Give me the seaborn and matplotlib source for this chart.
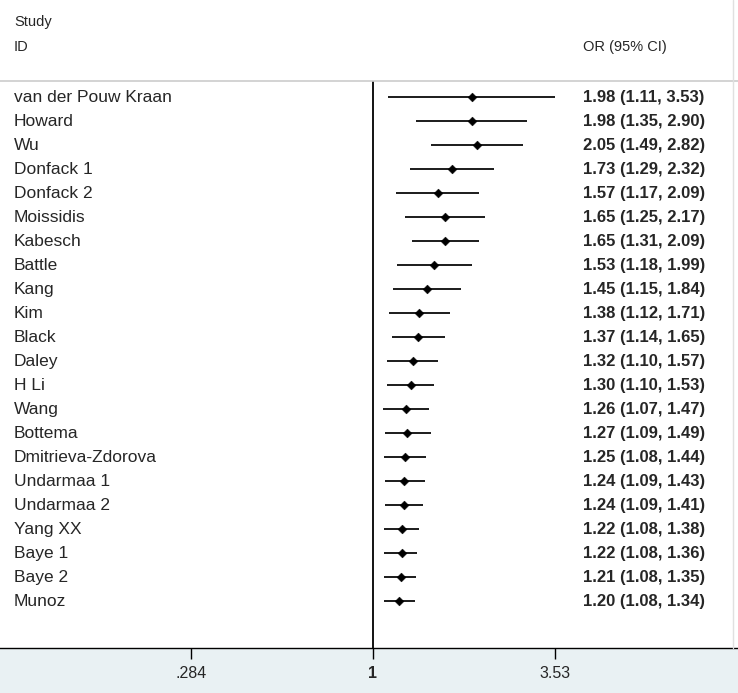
import numpy as np
import pandas as pd
import seaborn as sns
import matplotlib.pyplot as plt
from matplotlib.patches import Rectangle
from matplotlib.transforms import blended_transform_factory

studies = ["van der Pouw Kraan", "Howard", "Wu", "Donfack 1", "Donfack 2",
           "Moissidis", "Kabesch", "Battle", "Kang", "Kim", "Black", "Daley",
           "H Li", "Wang", "Bottema", "Dmitrieva-Zdorova", "Undarmaa 1",
           "Undarmaa 2", "Yang XX", "Baye 1", "Baye 2", "Munoz"]
odds = [1.98, 1.98, 2.05, 1.73, 1.57, 1.65, 1.65, 1.53, 1.45, 1.38, 1.37,
        1.32, 1.30, 1.26, 1.27, 1.25, 1.24, 1.24, 1.22, 1.22, 1.21, 1.20]
lower = [1.11, 1.35, 1.49, 1.29, 1.17, 1.25, 1.31, 1.18, 1.15, 1.12, 1.14,
         1.10, 1.10, 1.07, 1.09, 1.08, 1.09, 1.09, 1.08, 1.08, 1.08, 1.08]
upper = [3.53, 2.90, 2.82, 2.32, 2.09, 2.17, 2.09, 1.99, 1.84, 1.71, 1.65,
         1.57, 1.53, 1.47, 1.49, 1.44, 1.43, 1.41, 1.38, 1.36, 1.35, 1.34]
ticks = [0.284, 1, 3.53]
tick_labels = [".284", "1", "3.53"]

df = pd.DataFrame({"study": studies, "or": odds, "lo": lower, "hi": upper})
df["row"] = np.arange(len(df))

sns.set_style("white")
plt.rcParams["font.family"] = ["Liberation Sans", "DejaVu Sans"]

fig = plt.figure(figsize=(7.38, 6.93), dpi=100)
W, H = 738, 693
# bottom band
fig.patches.append(Rectangle((0, 0), 1, 1 - 648 / H, transform=fig.transFigure,
                             facecolor="#e9f1f3", edgecolor="none", zorder=-1))

ax = fig.add_axes([0, 1 - 648 / H, 1, (648 - 81) / H])
ax.set_facecolor("white")
ax.set_xscale("log")
ppl = 144.3  # pixels per ln unit
ax.set_xlim(np.exp(-373 / ppl), np.exp((738 - 373) / ppl))
ax.set_ylim(21 + 47 / 24, -16 / 24)

ax.hlines(df["row"], df["lo"], df["hi"], color="black", lw=1.25)
sns.scatterplot(data=df, x="or", y="row", marker="D", s=20, color="black",
                edgecolor="black", ax=ax, zorder=3, legend=False)
ax.axvline(1, color="black", lw=1.3)

for s in ["left", "right"]:
    ax.spines[s].set_visible(False)
ax.spines["top"].set_color("#cccccc")
ax.spines["top"].set_linewidth(1.2)
ax.spines["bottom"].set_color("black")
ax.spines["bottom"].set_linewidth(1.0)

ax.set_xticks(ticks)
ax.set_xticklabels(tick_labels)
ax.xaxis.set_minor_locator(plt.NullLocator())
ax.tick_params(axis="x", direction="out", length=8, width=1, labelsize=11.5,
               pad=5, bottom=True, color="black")
ax.get_xticklabels()[1].set_fontweight("bold")
ax.set_yticks([])
ax.set_xlabel("")
ax.set_ylabel("")

tr = blended_transform_factory(ax.transAxes, ax.transData)
for i, r in df.iterrows():
    ax.text(14 / W, r["row"], r["study"], transform=tr, va="center",
            ha="left", fontsize=12.5)
    ax.text(583 / W, r["row"], f"{r['or']:.2f} ({r['lo']:.2f}, {r['hi']:.2f})",
            transform=tr, va="center", ha="left", fontsize=12,
            fontweight="bold")

fig.text(14 / W, 1 - 22 / H, "Study", fontsize=10.5, va="center", ha="left")
fig.text(14 / W, 1 - 47 / H, "ID", fontsize=10.5, va="center", ha="left")
fig.text(583 / W, 1 - 47 / H, "OR (95% CI)", fontsize=10.5, va="center",
         ha="left")
# right border
fig.add_artist(plt.Line2D([733 / W, 733 / W], [1 - 648 / H, 1],
                          transform=fig.transFigure, color="#e0e0e0", lw=1))

fig.savefig("out.png", dpi=100)
